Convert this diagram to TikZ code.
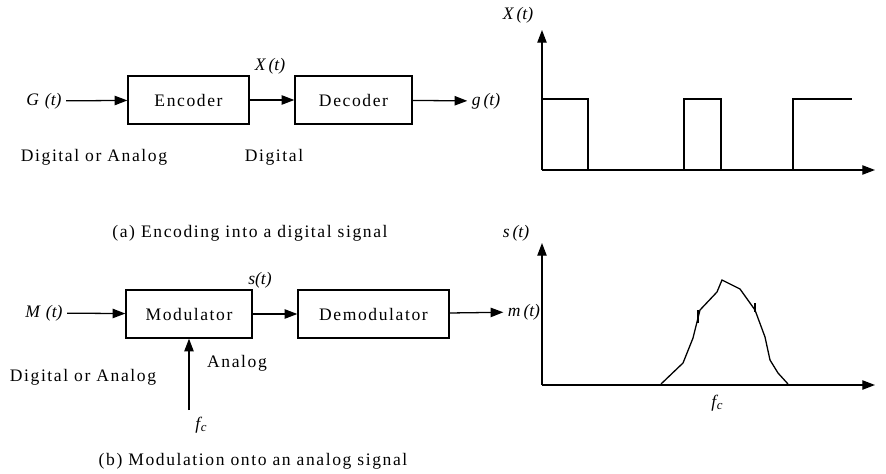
\documentclass[tikz,border=0pt]{standalone}
\usepackage{fontspec}
\setmainfont{Liberation Serif}
\newfontfamily\spaced{Liberation Serif}[LetterSpace=9]
\usetikzlibrary{arrows.meta}

\begin{document}
\begin{tikzpicture}[
  x=0.03cm, y=-0.03cm,
  line width=1.1pt,
  % Every box is as tall as the next; only the widths differ.
  block/.style={draw,inner sep=0pt,minimum height=1.44cm,
    font=\spaced\fontsize{15}{18}\selectfont},
  txt/.style={font=\spaced\fontsize{15}{18}\selectfont},
  sig/.style={font=\itshape\fontsize{15}{18}\selectfont},
  flow/.style={-{Triangle[length=3.8mm,width=2.8mm]}},
]

\useasboundingbox (0,0) rectangle (886,474);

%--- geometry (pixels of the original page) ----------------------------------
\def\rowA{100}        % centre line of the upper chain
\def\rowB{314}        % centre line of the lower chain
\def\axL{542}         % both time axes start here
\def\axR{875}         % tip of both horizontal axes
\def\baseA{170}       % zero line of the pulse train
\def\topA{30}         % tip of the upper vertical axis
\def\hiA{99}          % high level of the pulses
\def\baseB{385}       % zero line of the spectrum
\def\topB{243}        % tip of the lower vertical axis

%--- (a) encoding -------------------------------------------------------------
\node[sig] (gin) at (44,101) {G\,\,(t)};
\node[block,minimum width=3.63cm] (enc) at (188.5,\rowA) {Encoder};
\node[block,minimum width=3.51cm] (dec) at (353.5,\rowA) {Decoder};
\node[sig] (gout) at (486,101) {g\,(t)};
\node[sig] (xlab) at (270,66) {X\,(t)};

\draw[flow] (gin) -- (enc);
\draw[flow] (enc) -- (dec);
\draw[flow] (dec) -- (gout);

\node[txt] (inA) at (94,157) {Digital or Analog};
\node[txt] (outA) at (274,157) {Digital};
\node[txt] (capA) at (250,233) {(a) Encoding into a digital signal};

% The pulse train: the first pulse stands on the vertical axis.
\coordinate (oA) at (\axL,\baseA);
\draw[flow] (oA) -- (\axL,\topA);
\draw[flow] (oA) -- (\axR,\baseA);
\node[sig] (xaxis) at (518,15) {X\,(t)};
\draw (\axL,\hiA) -- (588,\hiA) -- (588,\baseA)
      (684,\baseA) -- (684,\hiA) -- (721,\hiA) -- (721,\baseA)
      (793,\baseA) -- (793,\hiA) -- (852,\hiA);

%--- (b) modulation -----------------------------------------------------------
\node[sig] (min) at (44,313) {M\,\,(t)};
\node[block,minimum width=3.78cm] (mod) at (189,\rowB) {Modulator};
\node[block,minimum width=4.53cm] (dem) at (373.5,\rowB) {Demodulator};
\node[sig] (mout) at (524,312) {m\,(t)};
\node[sig] (slab) at (260,280) {s(t)};

\draw[flow] (min) -- (mod);
\draw[flow] (mod) -- (dem);
\draw[flow] (dem) -- (mout);

% The carrier enters the modulator from below.
\coordinate (fcbase) at (189,410);
\node[sig] (fc) at (201,425) {f\kern0.5pt\raisebox{-0.3ex}{\fontsize{11}{12}\selectfont c}};
\draw[flow] (fcbase) -- (mod.south);

\node[txt] (anB) at (237,363) {Analog};
\node[txt] (inB) at (83,377) {Digital or Analog};
\node[txt] (capB) at (253,461) {(b) Modulation onto an analog signal};

% The spectrum: a hump round the carrier frequency.
\coordinate (oB) at (\axL,\baseB);
\draw[flow] (oB) -- (\axL,\topB);
\draw[flow] (oB) -- (\axR,\baseB);
\node[sig] (saxis) at (516,233) {s\,(t)};
\node[sig] (fcaxis) at (717,403) {f\kern0.5pt\raisebox{-0.3ex}{\fontsize{11}{12}\selectfont c}};
\draw (661,384) -- (683,363) -- (693,338) -- (697,322) -- (700,310)
      -- (717,292) -- (722,280) -- (740,289) -- (755,310) -- (765,337)
      -- (770,360) -- (778,373) -- (788,384);
\draw (698,310) -- (698,323)
      (755,303) -- (755,312);

\end{tikzpicture}
\end{document}
